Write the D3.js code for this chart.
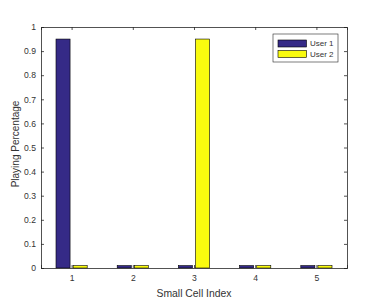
<!DOCTYPE html>
<html>
<head>
<meta charset="utf-8">
<script src="https://cdn.jsdelivr.net/npm/d3@7"></script>
<style>
  body { margin: 0; background: #fff; }
  text { font-family: "Liberation Sans", Arial, sans-serif; fill: #333; }
</style>
</head>
<body>
<div id="chart"></div>
<script>
const cells = [1, 2, 3, 4, 5];
const user1 = [0.95, 0.01, 0.01, 0.01, 0.01];
const user2 = [0.01, 0.01, 0.95, 0.01, 0.01];
const seriesNames = ["User 1", "User 2"];
const yTicks = [0, 0.1, 0.2, 0.3, 0.4, 0.5, 0.6, 0.7, 0.8, 0.9, 1];

const width = 374, height = 305;
const margin = { top: 27, right: 27, bottom: 37, left: 41 };
const colors = ["#352a87", "#f9fb0e"];
const axisColor = "#262626";
const textColor = "#333";

const svg = d3.select("#chart").append("svg")
  .attr("width", width).attr("height", height);

const x = d3.scaleLinear().domain([0.5, 5.5]).range([margin.left, width - margin.right]);
const y = d3.scaleLinear().domain([0, 1]).range([height - margin.bottom, margin.top]);

// bars (grouped, MATLAB style)
const barW = 0.23, offset = 0.14;
const series = [user1, user2];
series.forEach((vals, s) => {
  svg.append("g").selectAll("rect")
    .data(vals)
    .join("rect")
    .attr("x", (d, i) => x(cells[i] + (s === 0 ? -offset : offset) - barW / 2))
    .attr("width", x(barW) - x(0))
    .attr("y", d => y(d))
    .attr("height", d => y(0) - y(d))
    .attr("fill", colors[s])
    .attr("stroke", "#000")
    .attr("stroke-width", 0.6);
});

// axes box
const tick = 3;
const yLeft = svg.append("g").attr("transform", `translate(${margin.left},0)`)
  .call(d3.axisLeft(y).tickValues(yTicks).tickSize(-tick).tickPadding(5).tickFormat(d3.format("")));
const yRight = svg.append("g").attr("transform", `translate(${width - margin.right},0)`)
  .call(d3.axisRight(y).tickValues(yTicks).tickSize(-tick).tickFormat(""));
const xBottom = svg.append("g").attr("transform", `translate(0,${height - margin.bottom})`)
  .call(d3.axisBottom(x).tickValues(cells).tickSize(-tick).tickPadding(7).tickFormat(d3.format("d")));
const xTop = svg.append("g").attr("transform", `translate(0,${margin.top})`)
  .call(d3.axisTop(x).tickValues(cells).tickSize(-tick).tickFormat(""));

[yLeft, yRight, xBottom, xTop].forEach(g => {
  g.select(".domain").attr("stroke", axisColor).attr("stroke-width", 0.8);
  g.selectAll(".tick line").attr("stroke", axisColor).attr("stroke-width", 0.8);
  g.selectAll("text").style("font-family", "'Liberation Sans', Arial, sans-serif")
    .style("font-size", "8.6px").attr("fill", textColor);
});

// axis labels
svg.append("text")
  .attr("x", (margin.left + width - margin.right) / 2)
  .attr("y", 297)
  .attr("text-anchor", "middle")
  .style("font-size", "10.4px")
  .text("Small Cell Index");

svg.append("text")
  .attr("transform", "translate(19,144) rotate(-90)")
  .attr("text-anchor", "middle")
  .style("font-size", "10px")
  .text("Playing Percentage");

// legend
const legend = svg.append("g").attr("transform", "translate(273,34)");
legend.append("rect")
  .attr("width", 65).attr("height", 28)
  .attr("fill", "#fff").attr("stroke", axisColor).attr("stroke-width", 0.6);
seriesNames.forEach((name, i) => {
  legend.append("rect")
    .attr("x", 5).attr("y", 6 + i * 10.5)
    .attr("width", 28.5).attr("height", 7)
    .attr("fill", colors[i]).attr("stroke", "#000").attr("stroke-width", 0.6);
  legend.append("text")
    .attr("x", 37).attr("y", 9.5 + i * 10.5)
    .attr("dy", "0.35em")
    .style("font-size", "8px")
    .text(name);
});
</script>
</body>
</html>
